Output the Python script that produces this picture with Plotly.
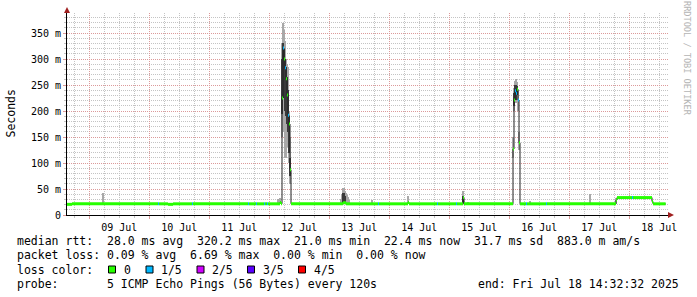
import plotly.graph_objects as go

# ---------------- data ----------------
median_time = [
    "2025-07-08 15:05", "2025-07-08 17:05", "2025-07-10 03:30", "2025-07-10 03:54",
    "2025-07-10 07:30", "2025-07-10 09:30", "2025-07-10 17:05", "2025-07-10 17:29",
    "2025-07-11 15:30", "2025-07-11 15:54", "2025-07-11 18:40", "2025-07-11 19:04",
    "2025-07-11 21:55", "2025-07-11 22:19", "2025-07-11 23:05", "2025-07-11 23:29",
    "2025-07-12 04:17", "2025-07-12 04:41",
    "2025-07-12 05:05", "2025-07-12 05:29", "2025-07-12 05:53", "2025-07-12 06:17",
    "2025-07-12 06:41", "2025-07-12 07:05", "2025-07-12 07:29", "2025-07-12 07:53",
    "2025-07-12 08:17", "2025-07-12 08:41",
    "2025-07-13 05:29", "2025-07-13 06:41", "2025-07-13 19:29", "2025-07-13 19:53",
    "2025-07-14 07:29", "2025-07-14 07:53", "2025-07-14 19:05", "2025-07-14 19:29",
    "2025-07-15 02:41", "2025-07-15 03:05", "2025-07-15 05:29", "2025-07-15 05:53",
    "2025-07-16 01:29", "2025-07-16 01:53", "2025-07-16 02:17", "2025-07-16 02:41",
    "2025-07-16 03:05", "2025-07-16 03:29", "2025-07-16 03:53", "2025-07-16 04:17",
    "2025-07-16 06:41", "2025-07-16 07:05", "2025-07-16 14:41", "2025-07-16 15:05",
    "2025-07-17 18:41", "2025-07-17 19:05", "2025-07-18 01:05", "2025-07-18 01:29",
    "2025-07-18 09:05", "2025-07-18 09:29", "2025-07-18 14:32",
]
median_ms = [
    20.5, 21.5, 21.5, 21.5,
    20.5, 21.5, 21.5, 21.5,
    21.5, 21.5, 21.5, 21.5,
    21.5, 21.5, 21.5, 21.5,
    24.0, 21.5,
    225, 321, 300, 283,
    262, 231, 192, 175,
    87, 21.5,
    23.5, 21.5, 21.5, 21.5,
    24.0, 21.5, 21.5, 21.5,
    21.5, 21.5, 33.0, 21.5,
    127, 221, 239, 234,
    242, 221, 139, 21.5,
    21.5, 21.5, 21.5, 21.5,
    29.0, 33.5, 33.5, 33.5,
    26.0, 21.5, 21.5,
]
median_loss = [
    0, 0, 1, 0,
    0, 0, 1, 0,
    1, 0, 1, 0,
    1, 0, 1, 0,
    0, 0,
    0, 1, 0, 1,
    0, 0, 1, 0,
    0, 0,
    0, 0, 1, 0,
    0, 0, 1, 0,
    1, 0, 0, 0,
    0, 0, 1, 1,
    0, 1, 0, 0,
    1, 0, 1, 0,
    0, 0, 1, 0,
    0, 0, 0,
]

smoke_time = [
    "2025-07-09 05:29", "2025-07-12 03:29", "2025-07-12 04:17",
    "2025-07-12 05:05", "2025-07-12 05:29", "2025-07-12 05:53", "2025-07-12 06:17",
    "2025-07-12 06:41", "2025-07-12 07:05", "2025-07-12 07:29", "2025-07-12 07:53",
    "2025-07-12 08:17",
    "2025-07-13 04:41", "2025-07-13 05:05", "2025-07-13 05:29", "2025-07-13 05:53",
    "2025-07-13 06:17", "2025-07-13 06:41", "2025-07-13 07:05", "2025-07-13 07:29",
    "2025-07-13 07:53", "2025-07-13 17:05", "2025-07-14 07:29", "2025-07-15 05:29",
    "2025-07-15 07:29",
    "2025-07-16 01:29", "2025-07-16 01:53", "2025-07-16 02:17", "2025-07-16 02:41",
    "2025-07-16 03:05", "2025-07-16 03:29", "2025-07-16 03:53",
    "2025-07-16 08:17", "2025-07-17 08:17", "2025-07-17 18:41",
]
smoke_lo = [
    21, 21, 21,
    150, 200, 160, 110,
    110, 130, 150, 100,
    60,
    21, 21, 21, 21,
    21, 21, 21, 21,
    21, 21, 21, 21,
    21,
    110, 200, 220, 215,
    225, 200, 125,
    21, 21, 21,
]
smoke_hi = [
    42, 31, 33,
    330, 370, 355, 335,
    300, 290, 285, 200,
    150,
    30, 40, 52, 51,
    46, 42, 38, 35,
    29, 29, 36, 46,
    25,
    150, 245, 258, 262,
    255, 240, 160,
    27, 40, 33,
]

core_time = [
    "2025-07-12 05:05", "2025-07-12 05:29", "2025-07-12 05:53", "2025-07-12 06:17",
    "2025-07-12 06:41", "2025-07-12 07:05", "2025-07-12 07:29", "2025-07-12 07:53",
    "2025-07-12 08:17",
    "2025-07-13 05:29", "2025-07-13 05:53", "2025-07-13 06:17", "2025-07-15 05:29",
    "2025-07-16 01:53", "2025-07-16 02:17", "2025-07-16 02:41", "2025-07-16 03:05",
]
core_lo = [195, 250, 225, 200, 190, 175, 160, 120, 75, 22, 22, 22, 24, 210, 228, 222, 230]
core_hi = [300, 330, 320, 300, 285, 265, 240, 190, 110, 42, 42, 37, 36, 235, 250, 250, 248]

loss_labels = ["0", "1/5", "2/5", "3/5", "4/5"]
loss_colors = ["#26ff00", "#00b8ff", "#d000ff", "#5a00ff", "#ff0000"]

y_tick_vals = [0, 50, 100, 150, 200, 250, 300, 350]
y_tick_text = ["0", "50 m", "100 m", "150 m", "200 m", "250 m", "300 m", "350 m"]

x_range = ["2025-07-08 15:05", "2025-07-18 15:29"]
y_range = [0, 388.5]

stat_lines = [
    "median rtt:  28.0 ms avg  320.2 ms max  21.0 ms min  22.4 ms now  31.7 ms sd  883.0 m am/s",
    "packet loss: 0.09 % avg  6.69 % max  0.00 % min  0.00 % now",
]
loss_title = "loss color:"
probe_line = "probe:       5 ICMP Echo Pings (56 Bytes) every 120s"
end_line = "end: Fri Jul 18 14:32:32 2025"
y_title = "Seconds"
watermark = "RRDTOOL / TOBI OETIKER"

# ---------------- layout helpers (pixel geometry) ----------------
W, H = 697, 297
PL, PR, PT, PB = 67, 668, 13, 215
MONO = "DejaVu Sans Mono"
TXT = 11.5
MAJOR = "#dc9a9a"
MINOR = "#c4c4c4"
STEP_MS = 24 * 60 * 1000


def px(x):
    return (x - PL) / (PR - PL)


def py(y):
    return (PB - y) / (PB - PT)


def nb(s):
    return s.replace(" ", "\u00a0")


fig = go.Figure()

# smoke (outer and inner spread of pings)
fig.add_trace(go.Bar(
    x=smoke_time, y=[h - l for l, h in zip(smoke_lo, smoke_hi)], base=smoke_lo,
    width=STEP_MS, marker=dict(color="#a8a8a8", line=dict(width=0)), hoverinfo="skip"))
fig.add_trace(go.Bar(
    x=core_time, y=[h - l for l, h in zip(core_lo, core_hi)], base=core_lo,
    width=STEP_MS, marker=dict(color="#3a3a3a", line=dict(width=0)), hoverinfo="skip"))

# thin black median line
fig.add_trace(go.Scatter(
    x=median_time, y=median_ms, mode="lines", line=dict(color="#202020", width=1, shape="hv"),
    hoverinfo="skip"))

# loss-coloured median segments
for lvl, col in enumerate(loss_colors):
    xs, ys = [], []
    for i in range(len(median_time) - 1):
        if median_loss[i] == lvl:
            xs += [median_time[i], median_time[i + 1], None]
            ys += [median_ms[i], median_ms[i], None]
    if xs:
        fig.add_trace(go.Scatter(x=xs, y=ys, mode="lines", line=dict(color=col, width=3),
                                 connectgaps=False, hoverinfo="skip"))

annotations = []
shapes = []

# axis arrows
shapes.append(dict(type="path", xref="paper", yref="paper",
                   path=f"M {px(668)},{py(212)} L {px(674)},{py(215)} L {px(668)},{py(218)} Z",
                   fillcolor="#a02020", line=dict(width=0)))
shapes.append(dict(type="path", xref="paper", yref="paper",
                   path=f"M {px(64)},{py(13)} L {px(67)},{py(7)} L {px(70)},{py(13)} Z",
                   fillcolor="#a02020", line=dict(width=0)))

# y title and watermark
annotations.append(dict(text=y_title, x=px(10.5), y=py(114), xref="paper", yref="paper",
                        xanchor="center", yanchor="middle",
                        textangle=-90, showarrow=False, font=dict(family=MONO, size=TXT, color="black")))
annotations.append(dict(text=nb(watermark), x=px(687), y=py(58), xref="paper", yref="paper",
                        xanchor="center", yanchor="middle",
                        textangle=90, showarrow=False, font=dict(family=MONO, size=8.6, color="#b4b4b4")))

# statistics text
line_y = [241, 255, 269.5, 283.5]


def txt(s, x, y, anchor="left"):
    annotations.append(dict(text=nb(s), x=px(x), y=py(y), xref="paper", yref="paper",
                            xanchor=anchor, yanchor="middle", showarrow=False,
                            font=dict(family=MONO, size=TXT, color="black")))


for i, s in enumerate(stat_lines):
    txt(s, 15, line_y[i])
txt(loss_title, 15, line_y[2])
box_x = [108.5, 146, 197, 247.5, 298.5]
lab_x = [121.5, 158.5, 209.5, 260.5, 311.5]
for lbl, col, bx, lx in zip(loss_labels, loss_colors, box_x, lab_x):
    shapes.append(dict(type="rect", xref="paper", yref="paper",
                       x0=px(bx), x1=px(bx + 7), y0=py(266), y1=py(273),
                       fillcolor=col, line=dict(color="black", width=1)))
    txt(lbl, lx, line_y[2])
txt(probe_line, 15, line_y[3])
txt(end_line, 681, line_y[3], anchor="right")

fig.update_layout(
    width=W, height=H, autosize=False,
    margin=dict(l=PL, r=W - PR, t=PT, b=H - PB, pad=0),
    paper_bgcolor="white", plot_bgcolor="white",
    showlegend=False, barmode="overlay", bargap=0,
    font=dict(family=MONO, size=10, color="black"),
    annotations=annotations, shapes=shapes,
    xaxis=dict(
        type="date", range=x_range, fixedrange=True,
        tick0="2025-07-09", dtick=86400000, tickformat="%d %b", ticklabelmode="period",
        showgrid=True, gridcolor=MAJOR, griddash="1px,1px", gridwidth=1,
        ticks="outside", ticklen=3, tickcolor=MAJOR,
        showline=True, linecolor="black", linewidth=1, zeroline=False,
        tickfont=dict(family=MONO, size=10, color="black"),
        minor=dict(tick0="2025-07-09", dtick=21600000, showgrid=True, gridcolor=MINOR,
                   griddash="1px,1px", ticks="outside", ticklen=2, tickcolor=MINOR),
    ),
    yaxis=dict(
        range=y_range, fixedrange=True,
        tickmode="array", tickvals=y_tick_vals, ticktext=y_tick_text,
        showgrid=True, gridcolor=MAJOR, griddash="1px,1px", gridwidth=1,
        ticks="outside", ticklen=3, tickcolor=MAJOR,
        showline=True, linecolor="black", linewidth=1, zeroline=False,
        tickfont=dict(family=MONO, size=10, color="black"),
        minor=dict(tick0=0, dtick=10, showgrid=True, gridcolor=MINOR,
                   griddash="1px,1px", ticks="outside", ticklen=2, tickcolor=MINOR),
    ),
)

fig.write_html("out.html")
